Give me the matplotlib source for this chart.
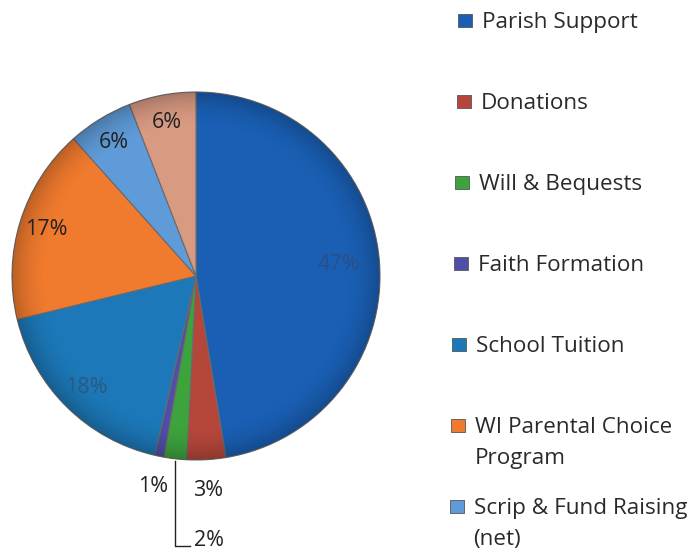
import numpy as np
import matplotlib
matplotlib.use('Agg')
import matplotlib.pyplot as plt
import matplotlib.patches as patches

plt.rcParams['font.family'] = ['Open Sans', 'DejaVu Sans']

# wedge shares (%), clockwise from 12 o'clock
categories = ['Parish Support', 'Donations', 'Will & Bequests', 'Faith Formation',
              'School Tuition', 'WI Parental Choice\nProgram', 'Scrip & Fund Raising\n(net)',
              'Other']
shares = [47.4, 3.4, 2.0, 0.8, 17.6, 17.2, 5.7, 5.9]
colors = ['#1a5fb4', '#b5473a', '#3da33d', '#4f4fa8',
          '#1c78b8', '#f07a2e', '#5e9bd8', '#d99a82']
label_colors = ['#2b4f86', '#222222', '#222222', '#222222',
                '#2a5a80', '#222222', '#222222', '#222222']
legend_count = 7  # last slice's legend entry is cut off in the picture

fig = plt.figure(figsize=(6.96, 5.5), dpi=100)

# pie axes: centre at (196, 276) px, radius 184 px
cx, cy, r = 196, 276, 184
ax = fig.add_axes([(cx - r) / 696, (550 - cy - r) / 550, 2 * r / 696, 2 * r / 550])

wedges, texts, autotexts = ax.pie(
    shares, colors=colors, startangle=90, counterclock=False,
    autopct='%1.0f%%', pctdistance=0.85,
    wedgeprops=dict(edgecolor='#6a6a6a', linewidth=0.8),
    textprops=dict(fontsize=15.5))

# faint darker rim, like the bevelled slices of the original
g = np.linspace(-1, 1, 400)
xx, yy = np.meshgrid(g, g)
rr = np.sqrt(xx ** 2 + yy ** 2)
shade = np.zeros((400, 400, 4))
shade[..., 3] = np.clip((rr - 0.8) / 0.2, 0, 1) ** 2 * 0.22
im = ax.imshow(shade, extent=(-1, 1, -1, 1), zorder=1.5, interpolation='bilinear')
im.set_clip_path(patches.Circle((0, 0), 1, transform=ax.transData))
ax.set_xlim(-1, 1)
ax.set_ylim(-1, 1)
ax.set_aspect('equal')

for t, c in zip(autotexts, label_colors):
    t.set_color(c)
    t.set_zorder(3)

# big slice label sits a bit further in
def mid_dir(w):
    a = np.radians((w.theta1 + w.theta2) / 2)
    return np.cos(a), np.sin(a)

dx, dy = mid_dir(wedges[0])
autotexts[0].set_position((0.78 * dx, 0.78 * dy))

# small slices: labels outside the pie
for i in (1, 3):
    dx, dy = mid_dir(wedges[i])
    autotexts[i].set_position((1.18 * dx, 1.17 * dy))
    autotexts[i].set_clip_on(False)

# 2% slice with a leader line
dx, dy = mid_dir(wedges[2])
x0, y0 = dx, dy - 0.01
ax.plot([x0, x0, x0 + 0.08], [y0, -1.47, -1.47], color='#222222', lw=1.0,
        clip_on=False)
autotexts[2].set_position((x0 + 0.1, -1.44))
autotexts[2].set_ha('left')
autotexts[2].set_clip_on(False)

# legend drawn by hand to keep the picture's fixed row spacing
# (rows drift slightly left going down, as in the scanned original)
for i in range(legend_count):
    y = 20 + i * 81
    fy = 1 - y / 550
    xs = 458 - 1.4 * i
    fig.patches.append(patches.Rectangle((xs / 696, fy - 7 / 550), 14 / 696, 13 / 550,
                                         transform=fig.transFigure, facecolor=colors[i],
                                         edgecolor='#555555', linewidth=0.6))
    fig.text((xs + 24) / 696, fy + 8 / 550, categories[i], fontsize=16.2, color='#2a2a2a',
             va='top', ha='left', linespacing=1.6)

fig.savefig('out.png', dpi=100, facecolor='white')
